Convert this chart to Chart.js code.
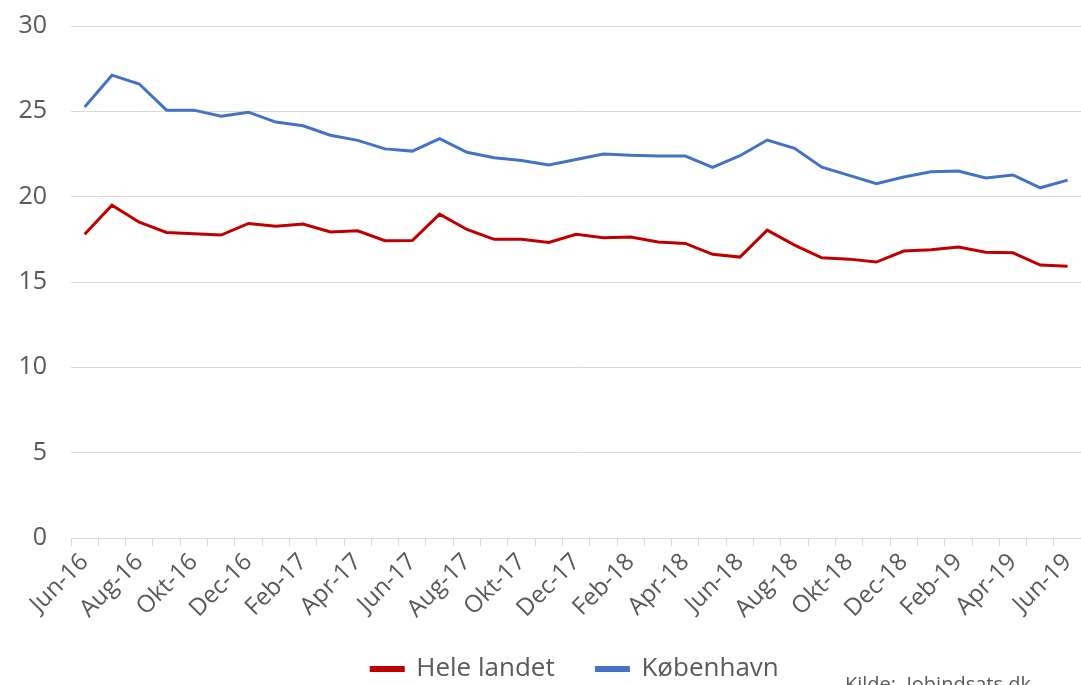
<!DOCTYPE html>
<html>
<head>
<meta charset="utf-8">
<script src="https://cdn.jsdelivr.net/npm/chart.js@4.4.1/dist/chart.umd.min.js"></script>
<style>
  html, body { margin: 0; padding: 0; background: #fff; overflow: hidden; }
  #wrap { position: relative; width: 1081px; height: 685px; overflow: hidden; }
  #chart { position: absolute; left: 0; top: -13px; }
  #kilde {
    position: absolute; left: 845px; top: 670px;
    font-family: "Open Sans", sans-serif; font-size: 20px; color: #595959;
    white-space: nowrap;
  }
</style>
</head>
<body>
<div id="wrap">
  <canvas id="chart" width="1090" height="705"></canvas>
  <div id="kilde">Kilde:&nbsp; Jobindsats.dk</div>
</div>
<script>
/* ================== DATA ================== */
const months = [
  "Jun-16", "Jul-16", "Aug-16", "Sep-16", "Okt-16", "Nov-16", "Dec-16",
  "Jan-17", "Feb-17", "Mar-17", "Apr-17", "Maj-17", "Jun-17", "Jul-17",
  "Aug-17", "Sep-17", "Okt-17", "Nov-17", "Dec-17", "Jan-18", "Feb-18",
  "Mar-18", "Apr-18", "Maj-18", "Jun-18", "Jul-18", "Aug-18", "Sep-18",
  "Okt-18", "Nov-18", "Dec-18", "Jan-19", "Feb-19", "Mar-19", "Apr-19",
  "Maj-19", "Jun-19"
];

const heleLandet = [
  17.8, 19.5, 18.5, 17.9, 17.83, 17.75, 18.43,
  18.26, 18.4, 17.93, 18.0, 17.42, 17.43, 18.98,
  18.08, 17.5, 17.5, 17.32, 17.79, 17.6, 17.63,
  17.34, 17.26, 16.62, 16.46, 18.04, 17.16, 16.42,
  16.34, 16.17, 16.81, 16.89, 17.05, 16.75, 16.71,
  15.99, 15.92
];

const koebenhavn = [
  25.25, 27.12, 26.6, 25.07, 25.07, 24.72, 24.95,
  24.37, 24.15, 23.6, 23.3, 22.8, 22.67, 23.4,
  22.6, 22.28, 22.12, 21.85, 22.18, 22.5, 22.42,
  22.38, 22.38, 21.72, 22.4, 23.32, 22.83, 21.73,
  21.25, 20.76, 21.15, 21.46, 21.5, 21.09, 21.27,
  20.52, 20.97
];

const yTicks = { min: 0, max: 30, step: 5 };

/* ================== CHART ================== */
const FONT = "'Open Sans', sans-serif";
const GREY = "#595959";
const GRID = "#d9d9d9";

// legend sits a bit right of centre in the original
const legendShift = {
  id: "legendShift",
  afterLayout(chart) {
    if (chart.legend) {
      chart.legend.left += 32;
      chart.legend.right += 32;
    }
  }
};

const ctx = document.getElementById("chart").getContext("2d");

new Chart(ctx, {
  type: "line",
  data: {
    labels: months,
    datasets: [
      {
        label: "Hele landet",
        data: heleLandet,
        borderColor: "#c00000",
        backgroundColor: "#c00000",
        borderWidth: 3,
        pointRadius: 0,
        tension: 0
      },
      {
        label: "København",
        data: koebenhavn,
        borderColor: "#4472c4",
        backgroundColor: "#4472c4",
        borderWidth: 3,
        pointRadius: 0,
        tension: 0
      }
    ]
  },
  options: {
    responsive: false,
    animation: false,
    layout: { padding: { top: 0, right: 4, left: 0, bottom: 0 } },
    plugins: {
      tooltip: { enabled: false },
      legend: {
        position: "bottom",
        labels: {
          font: { family: FONT, size: 26 },
          color: GREY,
          boxWidth: 32,
          boxHeight: 3,
          padding: 8,
          // widen the gap between the two legend entries
          generateLabels: (chart) => {
            const items = Chart.defaults.plugins.legend.labels.generateLabels(chart);
            items.forEach((it, i) => {
              if (i < items.length - 1) it.text = it.text + "     ";
            });
            return items;
          }
        }
      }
    },
    scales: {
      x: {
        offset: true,
        afterFit: (scale) => { scale.height = 110; },
        grid: {
          offset: true,
          drawOnChartArea: false,
          drawTicks: true,
          tickLength: 8,
          color: GRID
        },
        border: { color: GRID, width: 1 },
        ticks: {
          autoSkip: false,
          minRotation: 45,
          maxRotation: 45,
          padding: 2,
          color: GREY,
          font: { family: FONT, size: 24 },
          callback: (v, i) => (i % 2 === 0 ? months[i] : "")
        }
      },
      y: {
        min: yTicks.min,
        max: yTicks.max,
        afterFit: (scale) => { scale.width = 71; },
        border: { display: false },
        grid: { color: GRID, lineWidth: 1, drawTicks: false },
        ticks: {
          stepSize: yTicks.step,
          padding: 24,
          color: GREY,
          font: { family: FONT, size: 25 }
        }
      }
    }
  },
  plugins: [legendShift]
});
</script>
</body>
</html>
